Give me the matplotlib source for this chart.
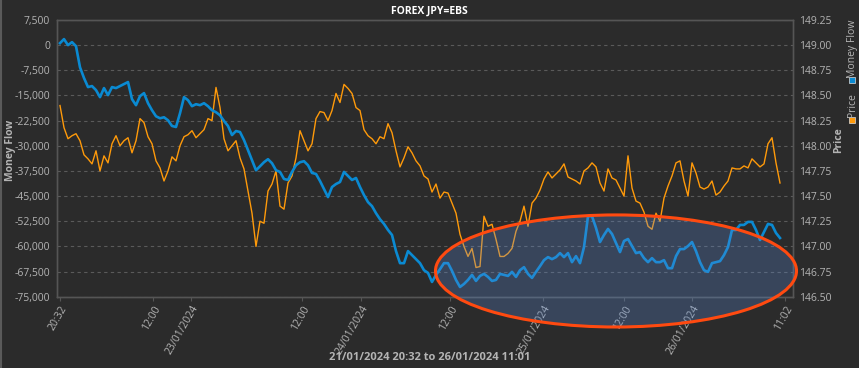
import numpy as np
import matplotlib
matplotlib.use("Agg")
import matplotlib.pyplot as plt
from matplotlib.patches import Ellipse, Rectangle
from matplotlib.lines import Line2D

plt.rcParams['font.family'] = ['Open Sans', 'DejaVu Sans']

title = "FOREX JPY=EBS"
xlabel_text = "21/01/2024 20:32 to 26/01/2024 11:01"

money_flow = [
    600, 1800, 0, 900, -300, -6600, -9800, -12500, -12200, -13400,
    -15500, -12800, -14900, -12500, -12800, -12200, -11600, -11000, -16100, -17900,
    -15200, -14300, -17300, -19400, -21200, -21800, -21500, -22400, -24100, -24400,
    -20300, -15500, -16400, -18200, -17600, -17900, -17300, -18200, -19400, -20000,
    -20900, -22600, -24100, -26800, -25600, -25900, -28300, -31300, -34300, -37300,
    -36100, -34900, -34000, -35200, -37300, -37800, -39900, -40200, -37800, -35800,
    -34900, -34600, -35800, -38100, -38400, -40500, -42900, -45300, -42300, -41400,
    -40800, -37800, -39000, -40200, -39600, -42300, -44700, -46800, -48000, -50100,
    -51900, -53300, -55100, -56600, -61400, -65000, -65000, -61400, -62600, -63800,
    -65000, -67100, -67900, -70600, -68500, -66800, -65000, -65000, -67300, -70000,
    -72100, -71200, -70000, -68500, -70300, -68800, -68200, -69100, -70300, -70000,
    -68200, -68500, -68800, -67600, -69100, -67100, -66200, -68200, -69400, -67600,
    -65900, -64100, -63200, -63800, -63200, -62000, -63200, -62000, -64700, -62900,
    -65000, -60200, -51000, -51000, -54500, -58700, -56600, -54800, -56300, -59000,
    -61700, -58400, -57800, -59900, -62000, -61700, -63500, -64700, -63500, -64700,
    -64700, -64100, -66500, -66500, -62900, -60800, -60800, -59900, -58700, -61400,
    -64700, -67100, -67600, -65000, -64700, -64400, -62600, -60200, -55100, -55100,
    -53600, -53600, -52700, -52700, -55100, -58100, -55700, -53300, -53600, -56000,
    -57500,
]

price = [
    148.40, 148.18, 148.07, 148.10, 148.12, 148.05, 147.91, 147.87, 147.82, 147.95,
    147.75, 147.90, 147.83, 148.02, 148.10, 148.00, 148.05, 148.08, 147.93, 148.05,
    148.27, 148.23, 148.09, 148.02, 147.85, 147.78, 147.65, 147.75, 147.89, 147.85,
    148.00, 148.09, 148.11, 148.15, 148.08, 148.12, 148.16, 148.27, 148.25, 148.58,
    148.38, 148.07, 147.95, 148.00, 148.05, 147.88, 147.77, 147.55, 147.33, 147.00,
    147.25, 147.23, 147.55, 147.62, 147.75, 147.40, 147.37, 147.63, 147.70, 147.88,
    148.15, 148.05, 147.95, 148.02, 148.27, 148.34, 148.33, 148.25, 148.35, 148.52,
    148.43, 148.61, 148.57, 148.52, 148.38, 148.35, 148.16, 148.10, 148.07, 148.02,
    148.09, 148.07, 148.22, 148.13, 147.95, 147.79, 147.88, 147.99, 147.93, 147.85,
    147.80, 147.70, 147.67, 147.54, 147.62, 147.48, 147.54, 147.53, 147.43, 147.33,
    147.12, 147.00, 146.90, 146.98, 146.79, 146.80, 147.30, 147.20, 147.22, 147.07,
    146.90, 146.90, 146.93, 146.98, 147.15, 147.25, 147.40, 147.20, 147.43, 147.48,
    147.56, 147.67, 147.74, 147.68, 147.72, 147.76, 147.82, 147.69, 147.67, 147.65,
    147.62, 147.75, 147.78, 147.83, 147.79, 147.63, 147.55, 147.77, 147.68, 147.66,
    147.58, 147.50, 147.90, 147.58, 147.45, 147.43, 147.34, 147.20, 147.17, 147.33,
    147.25, 147.48, 147.60, 147.70, 147.83, 147.85, 147.65, 147.50, 147.83, 147.73,
    147.59, 147.57, 147.59, 147.65, 147.51, 147.54, 147.60, 147.65, 147.78, 147.77,
    147.77, 147.80, 147.78, 147.87, 147.83, 147.79, 147.82, 148.02, 148.08, 147.83,
    147.63,
]

tick_labels = ['20:32', '12:00', '23/01/2024', '12:00', '24/01/2024',
               '12:00', '25/01/2024', '12:00', '26/01/2024', '11:02']
tick_pos = [0, 23.25, 32.7, 60.5, 75.25, 97.5, 120.75, 141, 158, 181.25]

left_ticks = list(range(-75000, 7501, 7500))
right_ticks = [146.50 + 0.25 * k for k in range(12)]

BG_FIG = '#2b2b2b'
BG_AX = '#343434'
GRID = '#5a5a5a'
TXT = '#b4b4b4'
BLUE = '#0a8ad2'
ORANGE = '#ff9a0a'

W, H = 859, 368
fig = plt.figure(figsize=(W / 100, H / 100), dpi=100, facecolor=BG_FIG)
ax = fig.add_axes([57 / W, 1 - 296.7 / H, (793 - 57) / W, (296.7 - 20) / H])
ax2 = ax.twinx()
ax.set_zorder(ax2.get_zorder() + 1)
ax.patch.set_visible(False)
ax2.set_facecolor(BG_AX)

x_mf = np.arange(len(money_flow))
x_pr = np.arange(len(price))
ax2.plot(x_pr, price, color=ORANGE, lw=1.0, zorder=3)
ax.plot(x_mf, money_flow, color=BLUE, lw=1.9, zorder=3)

ax.set_xlim(-0.75, 183.25)
ax.set_ylim(-75000, 7500)
ax2.set_ylim(146.5, 149.25)

ax.set_yticks(left_ticks)
ax.set_yticklabels([f"{t:,}" for t in left_ticks])
ax2.set_yticks(right_ticks)
ax2.set_yticklabels([f"{t:.2f}" for t in right_ticks])
ax.set_xticks(tick_pos)
ax.set_xticklabels(tick_labels, rotation=60, ha='right', va='top',
                   rotation_mode='anchor')

ax2.grid(axis='y', color=GRID, linestyle=(0, (3, 3)), lw=0.8)
ax2.set_axisbelow(True)

for a in (ax, ax2):
    for s in a.spines.values():
        s.set_color('#555555')
        s.set_linewidth(1.0)
ax.tick_params(axis='y', colors=TXT, labelsize=7.5, length=0, pad=5)
ax2.tick_params(axis='y', colors=TXT, labelsize=7.5, length=0, pad=4)
ax.tick_params(axis='x', colors='#555555', labelcolor=TXT, labelsize=7.5,
               length=3, pad=2)

# annotation ellipse
ell = Ellipse((0.7595, 0.093), 0.4905, 0.405, transform=ax.transAxes,
              facecolor=(0.36, 0.55, 0.85, 0.28), edgecolor='#ff4a10', lw=2.2,
              clip_on=False, zorder=10)
ax.add_patch(ell)

fig.text(0.5, 1 - 11 / H, title, color='white', fontsize=7.5, fontweight='bold',
         ha='center', va='center')
fig.text(0.5, 1 - 358 / H, xlabel_text, color=TXT, fontsize=8, fontweight='bold',
         ha='center', va='center')
fig.text(11 / W, 1 - 150 / H, 'Money Flow', color=TXT, fontsize=7.5,
         fontweight='bold', rotation=90, ha='center', va='center')
fig.text(839 / W, 1 - 140 / H, 'Price', color=TXT, fontsize=7.5,
         fontweight='bold', rotation=90, ha='center', va='center')

# vertical legend
fig.patches.append(Rectangle((849 / W, 1 - 83 / H), 6 / W, 6 / H,
                             transform=fig.transFigure, facecolor=BLUE,
                             edgecolor='#dddddd', lw=0.5))
fig.text(852 / W, 1 - 20 / H, 'Money Flow', color=TXT, fontsize=7.5,
         rotation=90, ha='center', va='top')
fig.patches.append(Rectangle((849 / W, 1 - 123 / H), 6 / W, 6 / H,
                             transform=fig.transFigure, facecolor=ORANGE,
                             edgecolor='#dddddd', lw=0.5))
fig.text(852 / W, 1 - 93 / H, 'Price', color=TXT, fontsize=7.5,
         rotation=90, ha='center', va='top')

# thin lighter frame edge at the far left of the picture
fig.lines.append(Line2D([1 / W, 1 / W], [0, 1], transform=fig.transFigure,
                        color='#5a5a5a', lw=1.5))

fig.savefig('out.png', dpi=100, facecolor=BG_FIG)
